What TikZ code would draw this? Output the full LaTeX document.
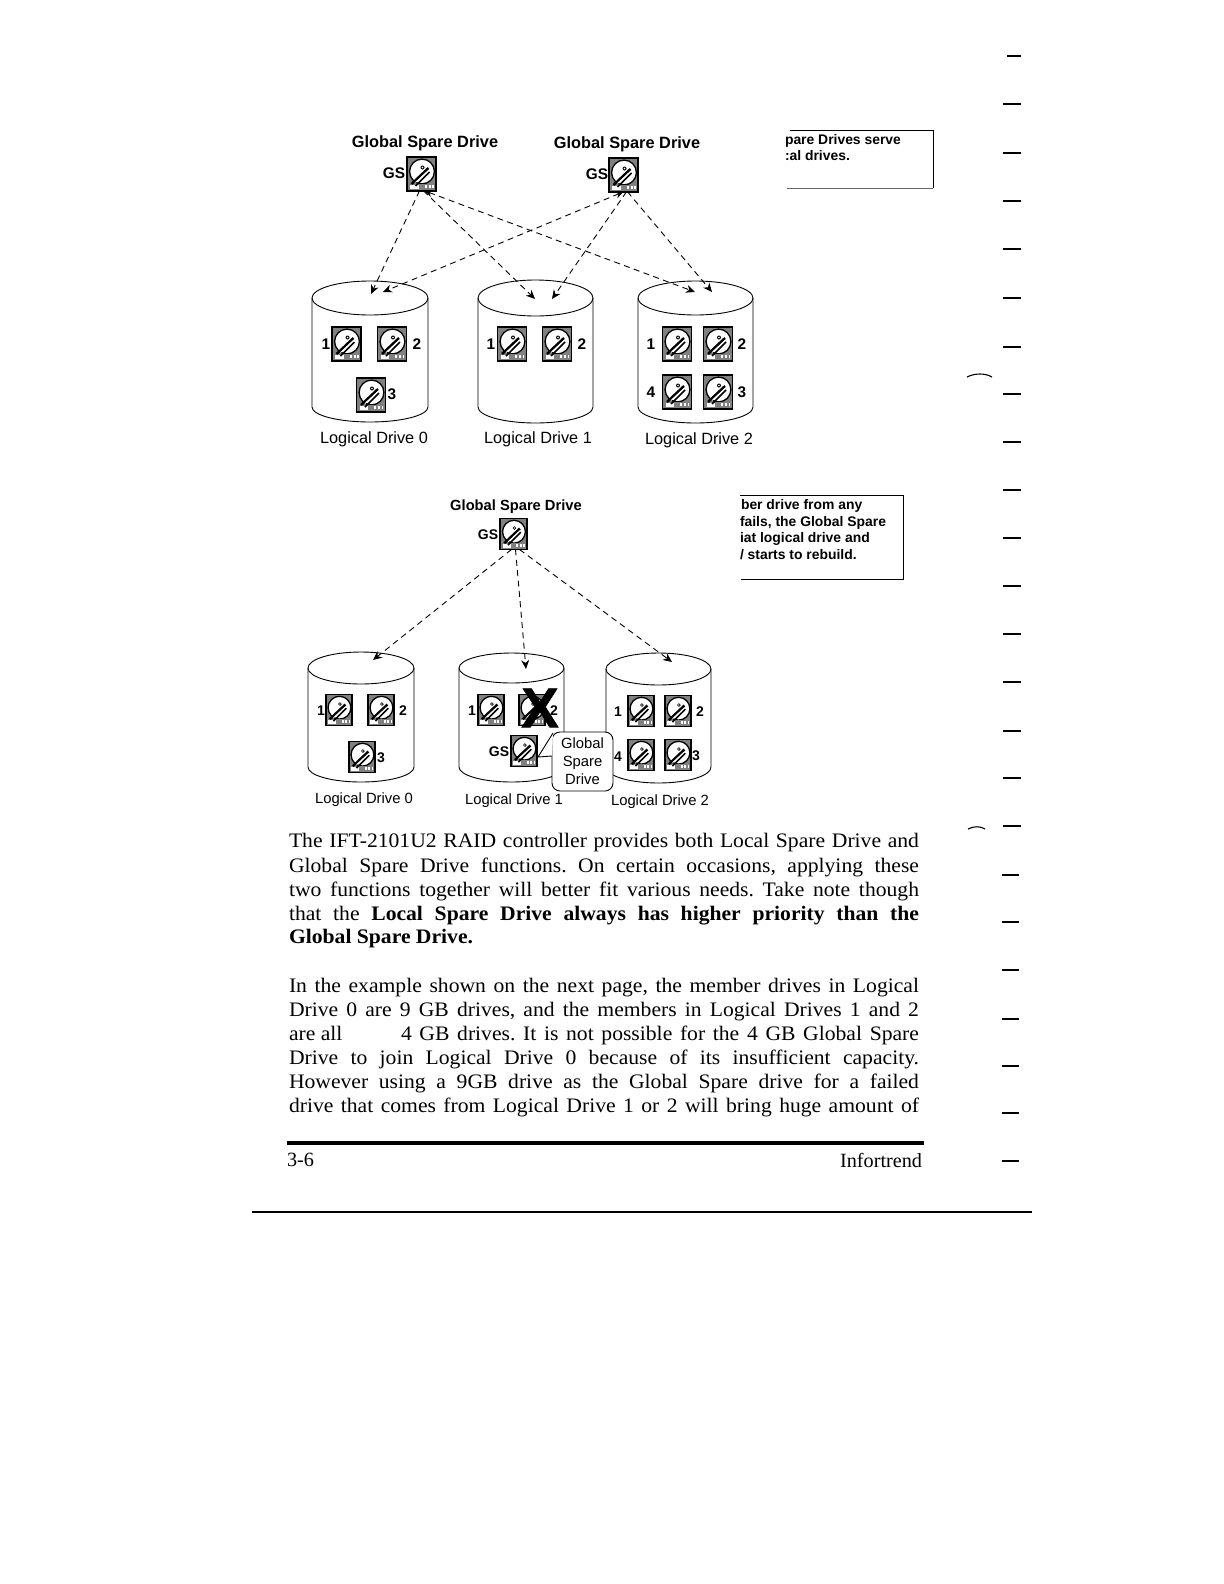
\documentclass[tikz,border=0pt]{standalone}
\usepackage{fontspec}
\setmainfont{Liberation Serif}
\newfontfamily\arialf{Liberation Sans}
\newfontfamily\xmarkf[UprightFont={* Bold},FakeBold=1.2]{Liberation Sans}
\newfontfamily\bodyf[FakeStretch=1.05]{Liberation Serif}
\usetikzlibrary{arrows.meta}
\newcommand{\hdd}[4]{%
  \node[hddbox, minimum width={#4*14.5bp}, minimum height={#4*16.8bp}] (#1) at (#2,#3) {};
  \begin{scope}[shift={(#1.center)}, scale=#4]
    \filldraw[fill=white, draw=black, line width=.65bp] (.5,-2.5) circle (12.4);
    \fill[white] (-11.5,10.5) -- (-3,10.5) -- (-3,15) -- (-11.5,15) -- cycle;
    \fill[black!50] (-3,10) rectangle (13,15.5);
    \draw[line width=1.2bp] (-10,10) -- (7,-6);
    \draw[line width=.8bp] (-6,12) -- (8,-2);
    \draw[white, line width=.4bp] (-6,8.5) -- (7,-3.5);
    \fill (1,-6.5) circle (2);
    \fill[white] (1,-6.5) circle (.8);
    \fill[white] (3,11) rectangle (5,14);
    \fill[white] (7,11) rectangle (9,14);
    \fill[white] (10.5,11) rectangle (12,14);
  \end{scope}}
\newcommand{\cyl}[7]{%
  % name, xleft, xright, ytop, ycentre, ysideend, ybottom
  \node[cylbox, minimum width={(#3-(#2))*0.5bp}, minimum height={(#7-(#4))*0.5bp}] (#1) at ({(#2+#3)/2},{(#4+#7)/2}) {};
  \draw[cylline] ({(#2+#3)/2},#5) ellipse [x radius={(#3-(#2))/2}, y radius={#5-(#4)}];
  \draw[cylline] (#2,#5) -- (#2,#6) arc [start angle=180, end angle=0, x radius={(#3-(#2))/2}, y radius={#7-(#6)}] -- (#3,#5);}
\tikzset{
  hddbox/.style={draw=black, fill=black!50, line width=.9bp, inner sep=0pt, outer sep=0pt},
  cylbox/.style={inner sep=0pt, outer sep=0pt},
  cylline/.style={draw=black, line width=.45bp},
  txt/.style={inner sep=0pt, outer sep=0pt, text height=.72em, text depth=.2em},
  titleA/.style={txt, font=\arialf\bfseries\fontsize{8.17bp}{9bp}\selectfont},
  titleB/.style={txt, font=\arialf\bfseries\fontsize{7.35bp}{9bp}\selectfont},
  ldA/.style={txt, font=\arialf\fontsize{8.15bp}{9bp}\selectfont},
  ldB/.style={txt, font=\arialf\fontsize{7.4bp}{9bp}\selectfont},
  numA/.style={txt, font=\arialf\bfseries\fontsize{7.7bp}{9bp}\selectfont},
  numB/.style={txt, font=\arialf\bfseries\fontsize{7bp}{9bp}\selectfont},
  boxtxt/.style={txt, anchor=west, font=\arialf\bfseries\fontsize{6.95bp}{9bp}\selectfont},
  body/.style={txt, anchor=west, font=\bodyf\frenchspacing\fontsize{10.3bp}{12bp}\selectfont},
  foot/.style={txt, font=\fontsize{10.1bp}{12bp}\selectfont},
  conn/.style={draw=black, line width=.45bp, dash pattern=on 3bp off 2.2bp, -{Stealth[length=4.5bp,width=4bp]}},
  connboth/.style={conn, {Stealth[length=4bp,width=3.5bp]}-{Stealth[length=4.5bp,width=4bp]}},
  margintick/.style={draw=black, line width=.55bp},
}
\newcommand{\bl}[1]{\makebox[315bp][s]{#1}}
\begin{document}
\begin{tikzpicture}[x=0.5bp,y=-0.5bp]
\useasboundingbox (0,0) rectangle (1224,1584);
\fill[white] (0,0) rectangle (1224,1584);

% ---------- upper diagram ----------
\cyl{aL0}{312}{428}{281}{298}{407}{422}
\cyl{aL1}{478}{593}{280}{298}{407}{423}
\cyl{aL2}{638}{753}{281}{298}{407}{423}

\node[titleA] (aT0) at (425,142) {Global Spare Drive};
\node[titleA] (aT1) at (627,143) {Global Spare Drive};
\hdd{aG0}{421.5}{174}{1}
\hdd{aG1}{623.5}{175}{1}
\node[numA] (aS0) at (394,173) {GS};
\node[numA] (aS1) at (597,174) {GS};

\hdd{a01}{346.5}{344}{1}
\hdd{a02}{392}{344}{1}
\hdd{a03}{371}{395}{1}
\node[numA] (n01) at (326,344) {1};
\node[numA] (n02) at (417,344) {2};
\node[numA] (n03) at (392,394) {3};
\hdd{a11}{512}{344}{1}
\hdd{a12}{557}{344}{1}
\node[numA] (n11) at (491,344) {1};
\node[numA] (n12) at (582,344) {2};
\hdd{a21}{677}{344}{1}
\hdd{a22}{718}{344}{1}
\hdd{a24}{677}{392}{1}
\hdd{a23}{718}{392}{1}
\node[numA] (n21) at (651,344) {1};
\node[numA] (n22) at (742,344) {2};
\node[numA] (n24) at (651,392) {4};
\node[numA] (n23) at (742,392) {3};

\node[ldA] (aN0) at (374,438) {Logical Drive 0};
\node[ldA] (aN1) at (538,438) {Logical Drive 1};
\node[ldA] (aN2) at (699,439) {Logical Drive 2};

\coordinate (e00) at (371,294);
\coordinate (e01) at (535,299);
\coordinate (e02) at (695,292);
\coordinate (e10) at (383,292);
\coordinate (e11) at (552,299);
\coordinate (e12) at (712,292);
\draw[conn] ([xshift=-1pt]aG0.south) -- (e00);
\draw[conn] ([xshift=1pt]aG0.south) -- (e01);
\draw[connboth] ([xshift=1.5pt]aG0.south) -- (e02);
\draw[connboth] (aG1.south) -- (e10);
\draw[conn] ([xshift=1.5pt]aG1.south) -- (e11);
\draw[conn] ([xshift=2pt]aG1.south) -- (e12);

% ---------- lower diagram ----------
\cyl{bL0}{308}{414}{652}{668}{767}{782}
\cyl{bL1}{459}{564}{653}{668}{767}{782}
\cyl{bL2}{606}{711}{653}{669}{767}{783}

\node[titleB] (bT0) at (516,505) {Global Spare Drive};
\hdd{bG0}{513.5}{534}{.92}
\node[numB] (bS0) at (488,534) {GS};

\hdd{b01}{339}{710}{.92}
\hdd{b02}{381}{710}{.92}
\hdd{b03}{362}{757}{.92}
\node[numB] (m01) at (321,710) {1};
\node[numB] (m02) at (403,710) {2};
\node[numB] (m03) at (381,757) {3};
\hdd{b11}{491}{710}{.92}
\hdd{b12}{532}{710}{.92}
\hdd{b13}{524}{751}{.92}
\node[numB] (m11) at (472,710) {1};
\node[numB] (m13) at (499,751) {GS};
\hdd{b21}{641}{711}{.92}
\hdd{b22}{678}{711}{.92}
\hdd{b24}{641}{755}{.92}
\hdd{b23}{678}{755}{.92}
\node[numB] (m21) at (618,711) {1};
\node[numB] (m22) at (700,711) {2};
\node[numB] (m24) at (618,756) {4};
\node[numB] (m23) at (696,755) {3};

\node[txt, font=\xmarkf\fontsize{28bp}{30bp}\selectfont] (bX) at (540,722) {X};
\node[numB] (m12) at (554,710) {2};

\node[draw=black, fill=white, line width=.45bp, rounded corners=4bp, minimum width=30.5bp, minimum height=29.5bp, inner sep=0pt, align=center, font=\arialf\fontsize{7.4bp}{9bp}\selectfont] (bC) at (582.5,761.5) {Global\\Spare\\Drive};
\coordinate (cA) at (553,733);
\coordinate (cB) at (552,756);
\coordinate (cT) at (538,757);
\fill[white] (cA) -- (cT) -- (cB) -- cycle;
\draw[draw=black, line width=.45bp] (cA) -- (cT) -- (cB);

\node[ldB] (bN0) at (364,798) {Logical Drive 0};
\node[ldB] (bN1) at (514,799) {Logical Drive 1};
\node[ldB] (bN2) at (660,800) {Logical Drive 2};

\coordinate (f0) at (373,660);
\coordinate (f1) at (526,669);
\coordinate (f2) at (672,662);
\draw[conn] ([xshift=-1pt]bG0.south) -- (f0);
\draw[conn] ([xshift=1pt]bG0.south) -- (f1);
\draw[conn] ([xshift=3pt]bG0.south) -- (f2);

% ---------- cropped note boxes ----------
\draw[draw=black, line width=.5bp] (790,130) -- (933,130) -- (933,188);
\draw[draw=black!60, line width=.45bp] (787,188) -- (933,188);
\node[boxtxt] (p1) at (785,139) {pare Drives serve};
\node[boxtxt] (p2) at (785,155) {:al drives.};
\draw[draw=black, line width=.5bp] (740,495) -- (903,495) -- (903,579) -- (741,579);
\node[boxtxt] (q1) at (741,504) {ber drive from any};
\node[boxtxt] (q2) at (740,521) {fails, the Global Spare};
\node[boxtxt] (q3) at (740,537) {iat logical drive and};
\node[boxtxt] (q4) at (740,554) {/ starts to rebuild.};

% ---------- body text ----------
\node[body] (t1) at (289,842.5) {\bl{The IFT-2101U2 RAID controller provides both Local Spare Drive and}};
\node[body] (t2) at (289,867) {\bl{Global Spare Drive functions. On certain occasions, applying these}};
\node[body] (t3) at (289,891) {\bl{two functions together will better fit various needs. Take note though}};
\node[body] (t4) at (289,915) {\bl{that the \textbf{Local Spare Drive always has higher priority than the}}};
\node[body] (t5) at (289,938.5) {\textbf{Global Spare Drive.}};
\node[body] (t6) at (289,987.5) {\bl{In the example shown on the next page, the member drives in Logical}};
\node[body] (t7) at (289,1011.5) {\bl{Drive 0 are 9 GB drives, and the members in Logical Drives 1 and 2}};
\node[body] (t8a) at (289,1035.5) {are all};
\node[body] (t8b) at (401,1035.5) {\makebox[259bp][s]{4 GB drives. It is not possible for the 4 GB Global Spare}};
\node[body] (t9) at (289,1059.5) {\bl{Drive to join Logical Drive 0 because of its insufficient capacity.}};
\node[body] (t10) at (289,1083.5) {\bl{However using a 9GB drive as the Global Spare drive for a failed}};
\node[body] (t11) at (289,1107.5) {\bl{drive that comes from Logical Drive 1 or 2 will bring huge amount of}};

% ---------- footer ----------
\draw[draw=black, line width=2bp] (287,1143) -- (924,1143);
\node[foot, anchor=west] (fL) at (287,1161) {3-6};
\node[foot, anchor=east] (fR) at (922,1162) {Infortrend};
\draw[draw=black, line width=.55bp] (252,1212) -- (1032,1212);

% ---------- margin marks ----------
\draw[margintick] (1007,56) -- (1021,56);
\foreach \yy in {104,153,201,249,298,347,394,442,490,538,586,634,682,731,778,826}
  \draw[margintick] (1003,\yy) -- (1021,\yy);
\foreach \yy in {875,922,970,1019,1066,1113,1161}
  \draw[margintick] (1002,\yy) -- (1019,\yy);
\draw[margintick] (967,377) .. controls (975,373) and (985,373) .. (992,377);
\draw[margintick] (968,829) .. controls (974,826) and (980,826) .. (985,829);
\end{tikzpicture}
\end{document}
